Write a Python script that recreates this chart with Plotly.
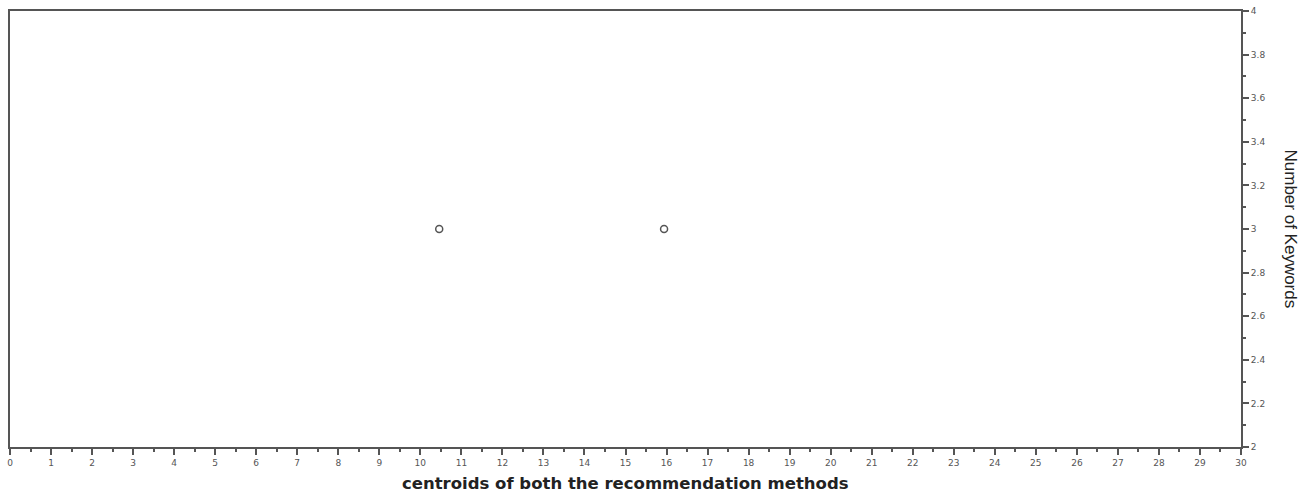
import plotly.graph_objects as go

x_vals = [10.46, 15.94]
y_vals = [3, 3]
x_ticks = list(range(0, 31))
y_ticks = [2, 2.2, 2.4, 2.6, 2.8, 3, 3.2, 3.4, 3.6, 3.8, 4]

fig = go.Figure()
fig.add_trace(go.Scatter(
    x=x_vals, y=y_vals, mode="markers",
    marker=dict(symbol="circle-open", size=7, color="#555555", line=dict(width=1.5)),
    showlegend=False,
))

axis_color = "#555555"
fig.update_layout(
    width=1308, height=492,
    margin=dict(l=10, r=67, t=11, b=45),
    paper_bgcolor="white", plot_bgcolor="white",
    font=dict(family="Liberation Sans, Arial, sans-serif", color="#444444"),
    xaxis=dict(
        range=[0, 30], tickvals=x_ticks, ticktext=[str(v) for v in x_ticks],
        showgrid=False, zeroline=False, automargin=False,
        showline=True, linecolor=axis_color, linewidth=2, mirror=True,
        ticks="outside", ticklen=6, tickwidth=1.5, tickcolor=axis_color,
        tickfont=dict(size=9, color="#555555", family="DejaVu Sans, sans-serif"),
        minor=dict(dtick=0.5, ticks="outside", ticklen=3, tickwidth=1.5, tickcolor=axis_color),
    ),
    yaxis=dict(
        range=[2, 4], side="right", tickvals=y_ticks, ticktext=[f"{v:g}" for v in y_ticks],
        showgrid=False, zeroline=False, automargin=False,
        showline=True, linecolor=axis_color, linewidth=2, mirror=True,
        ticks="outside", ticklen=6, tickwidth=1.5, tickcolor=axis_color,
        tickfont=dict(size=9, color="#555555", family="DejaVu Sans, sans-serif"),
        minor=dict(dtick=0.1, ticks="outside", ticklen=3, tickwidth=1.5, tickcolor=axis_color),
    ),
    annotations=[
        dict(
            text="Number of Keywords", xref="paper", yref="paper", x=1.0, y=0.5,
            xshift=61, showarrow=False, textangle=90,
            font=dict(size=17, color="#222222"),
        ),
        dict(
            text="<b>centroids of both the recommendation methods</b>",
            xref="paper", yref="paper", x=0.5, y=0, yshift=-36, yanchor="middle",
            showarrow=False,
            font=dict(size=16.5, color="#222222", family="DejaVu Sans, sans-serif"),
        ),
    ],
)

fig.write_html("out.html", config={"displayModeBar": False},
               post_script="document.body.style.margin='0';")
